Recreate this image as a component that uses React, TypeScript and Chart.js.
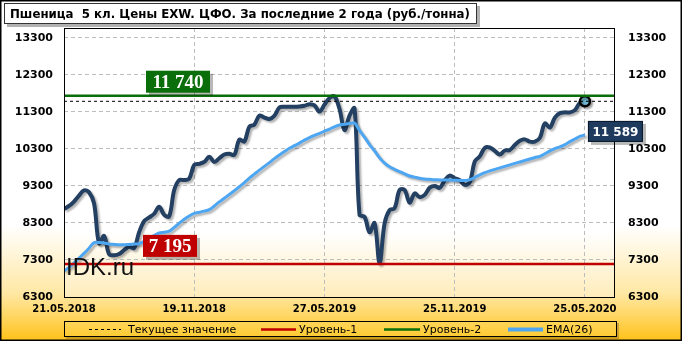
import { useEffect, useRef } from 'react';
import { Chart, registerables } from 'chart.js';

Chart.register(...registerables);

const TITLE = 'Пшеница  5 кл. Цены EXW. ЦФО. За последние 2 года (руб./тонна)';
const WATERMARK = 'IDK.ru';

const xTickWeeks = [0, 26, 52, 78, 104];
const xTickLabels = ['21.05.2018', '19.11.2018', '27.05.2019', '25.11.2019', '25.05.2020'];
const yTicks = [6300, 7300, 8300, 9300, 10300, 11300, 12300, 13300];

const priceValues = [
  8680, 8760, 8880, 9040, 9180, 9130, 8830, 7750, 7950, 7460,
  7430, 7460, 7570, 7660, 7620, 8050, 8350, 8450, 8550, 8740,
  8520, 8480, 9190, 9460, 9460, 9500, 9870, 9900, 9950, 10090,
  9950, 10050, 10150, 10170, 10140, 10550, 10500, 10900, 10960, 11200,
  11150, 11110, 11200, 11420, 11440, 11440, 11440, 11450, 11470, 11510,
  11480, 11310, 11500, 11680, 11720, 11380, 10810, 11200, 11400, 8520,
  8470, 8050, 8300, 7210, 8290, 8650, 8700, 9190, 9190, 8850,
  9100, 9000, 9060, 9250, 9300, 9250, 9450, 9580, 9510, 9460,
  9330, 9400, 9960, 10100, 10330, 10340, 10250, 10150, 10260, 10270,
  10410, 10520, 10560, 10500, 10500, 10600, 10990, 10880, 11150, 11270,
  11290, 11290, 11350, 11550, 11589,
];

const emaValues = [
  7000, 7100, 7220, 7350, 7480, 7620, 7770, 7770, 7760, 7730,
  7720, 7710, 7710, 7720, 7730, 7740, 7800, 7880, 7960, 8030,
  8050, 8080, 8180, 8290, 8400, 8490, 8560, 8590, 8620, 8660,
  8760, 8870, 8970, 9070, 9170, 9280, 9390, 9510, 9620, 9730,
  9830, 9930, 10040, 10140, 10230, 10320, 10390, 10460, 10540, 10610,
  10670, 10720, 10780, 10840, 10900, 10950, 10970, 10990, 11000, 10800,
  10620, 10420, 10250, 10060, 9920, 9820, 9750, 9690, 9630, 9570,
  9540, 9510, 9490, 9480, 9470, 9465, 9460, 9460, 9455, 9450,
  9450, 9470, 9530, 9600, 9660, 9710, 9750, 9790, 9830, 9870,
  9910, 9950, 9990, 10030, 10070, 10100, 10170, 10250, 10310, 10360,
  10420, 10500, 10570, 10640, 10680,
];

const currentValue = 11589;
const level1 = 7195;
const level2 = 11740;

const seriesLabels = ['Текущее значение', 'Уровень-1', 'Уровень-2', 'EMA(26)', 'Цена'];

const X_MAX = 110;
const Y_MIN = 6300;
const Y_MAX = 13570;

const fmt = (v: number) => {
  const s = String(Math.round(v));
  return s.replace(/\B(?=(\d{3})+(?!\d))/g, ' ');
};

const COLORS = {
  price: '#233F61',
  ema: '#4DA6F2',
  red: '#C00000',
  green: '#0A6E0A',
  navy: '#1E3A5C',
};

function drawBox(ctx: CanvasRenderingContext2D, x: number, y: number, w: number, h: number, fill: string, text: string, font: string, border?: string) {
  ctx.save();
  ctx.fillStyle = 'rgba(0,0,0,0.28)';
  ctx.fillRect(x + 3, y + 3, w, h);
  ctx.fillStyle = fill;
  ctx.fillRect(x, y, w, h);
  if (border) {
    ctx.strokeStyle = border;
    ctx.lineWidth = 1;
    ctx.strokeRect(x + 0.5, y + 0.5, w - 1, h - 1);
  }
  ctx.fillStyle = '#FFFFFF';
  ctx.font = font;
  ctx.textAlign = 'center';
  ctx.textBaseline = 'middle';
  ctx.fillText(text, x + w / 2, y + h / 2 + 1);
  ctx.restore();
}

const decorPlugin = {
  id: 'decor',
  beforeDraw(chart: any) {
    const { ctx, width, height, chartArea: a } = chart;
    ctx.save();
    const g = ctx.createLinearGradient(0, 0, 0, height);
    g.addColorStop(0, '#FFFFFF');
    g.addColorStop(0.66, '#FFFFFF');
    g.addColorStop(0.86, '#FFE8A4');
    g.addColorStop(1, '#FFC21A');
    ctx.fillStyle = g;
    ctx.fillRect(0, 0, width, height);
    const pg = ctx.createLinearGradient(0, a.top, 0, a.bottom);
    pg.addColorStop(0, '#FFFFFF');
    pg.addColorStop(0.76, '#FFFFFF');
    pg.addColorStop(1, '#FFECBA');
    ctx.fillStyle = pg;
    ctx.fillRect(a.left, a.top, a.right - a.left, a.bottom - a.top);
    ctx.restore();
  },
  beforeDatasetDraw(chart: any, args: any) {
    const ds = chart.data.datasets[args.index];
    if (ds.shadow) {
      const ctx = chart.ctx;
      ctx.save();
      ctx.shadowColor = 'rgba(0,0,0,0.3)';
      ctx.shadowOffsetX = 2;
      ctx.shadowOffsetY = 2;
      ctx.shadowBlur = 2;
    }
  },
  afterDatasetDraw(chart: any, args: any) {
    const ds = chart.data.datasets[args.index];
    if (ds.shadow) chart.ctx.restore();
  },
  afterDraw(chart: any) {
    const { ctx, width, height, chartArea: a, scales } = chart;
    const xs = scales.x;
    const ys = scales.y;
    ctx.save();
    // watermark
    ctx.fillStyle = '#111111';
    ctx.font = '24px "Liberation Sans", Arial, sans-serif';
    ctx.textAlign = 'left';
    ctx.textBaseline = 'alphabetic';
    ctx.fillText(WATERMARK, a.left + 2, 275);

    // plot border
    ctx.strokeStyle = '#000000';
    ctx.lineWidth = 1;
    ctx.strokeRect(a.left + 0.5, a.top + 0.5, a.right - a.left - 1, a.bottom - a.top);

    // value boxes
    const gy = ys.getPixelForValue(level2);
    drawBox(ctx, a.left + 82, gy - 25, 64, 22, COLORS.green, fmt(level2), 'bold 19px "Liberation Serif", serif');
    const ry = ys.getPixelForValue(level1);
    drawBox(ctx, a.left + 79, ry - 29, 54, 22, COLORS.red, fmt(level1), 'bold 19px "Liberation Serif", serif');
    const last = priceValues.length - 1;
    const lx = xs.getPixelForValue(last);
    const ey = ys.getPixelForValue(emaValues[last]);
    drawBox(ctx, lx + 3, ey - 14, 55, 21, COLORS.navy, fmt(currentValue), 'bold 12px "DejaVu Sans", sans-serif', '#0b1a2c');

    // title box
    ctx.font = 'bold 11.8px "DejaVu Sans", sans-serif';
    const bx = 4, by = 3, bw = 473, bh = 21;
    ctx.fillStyle = 'rgba(0,0,0,0.3)';
    ctx.fillRect(bx + 3, by + 3, bw, bh);
    ctx.fillStyle = '#FFFFFF';
    ctx.fillRect(bx, by, bw, bh);
    ctx.strokeStyle = '#333333';
    ctx.lineWidth = 1;
    ctx.strokeRect(bx + 0.5, by + 0.5, bw - 1, bh - 1);
    ctx.fillStyle = '#000000';
    ctx.textAlign = 'left';
    ctx.textBaseline = 'middle';
    ctx.fillText(TITLE, bx + 6, by + bh / 2 + 1, bw - 10);

    // legend
    const ly0 = 321, lh = 16, lx0 = 64, lw = 553;
    ctx.fillStyle = 'rgba(0,0,0,0.2)';
    ctx.fillRect(lx0 + 2, ly0 + 2, lw, lh);
    const lg = ctx.createLinearGradient(0, ly0, 0, ly0 + lh);
    lg.addColorStop(0, '#FFD65A');
    lg.addColorStop(1, '#FFCB33');
    ctx.fillStyle = lg;
    ctx.fillRect(lx0, ly0, lw, lh);
    ctx.strokeStyle = '#000000';
    ctx.lineWidth = 1;
    ctx.strokeRect(lx0 + 0.5, ly0 + 0.5, lw - 1, lh - 1);
    const cy = ly0 + lh / 2;
    const items = [
      { x0: 89, x1: 121, tx: 128, color: '#000000', w: 1, dash: [3, 3], label: seriesLabels[0] },
      { x0: 261, x1: 296, tx: 299, color: COLORS.red, w: 2.5, dash: [], label: seriesLabels[1] },
      { x0: 384, x1: 420, tx: 423, color: COLORS.green, w: 2.5, dash: [], label: seriesLabels[2] },
      { x0: 508, x1: 543, tx: 546, color: COLORS.ema, w: 4, dash: [], label: seriesLabels[3] },
    ];
    ctx.font = '11px "DejaVu Sans", sans-serif';
    ctx.textBaseline = 'middle';
    for (const it of items) {
      ctx.beginPath();
      ctx.setLineDash(it.dash);
      ctx.strokeStyle = it.color;
      ctx.lineWidth = it.w;
      ctx.moveTo(it.x0, cy + 0.5);
      ctx.lineTo(it.x1, cy + 0.5);
      ctx.stroke();
      ctx.setLineDash([]);
      ctx.fillStyle = '#000000';
      ctx.fillText(it.label, it.tx, cy + 1);
    }

    // outer border
    ctx.strokeStyle = '#000000';
    ctx.lineWidth = 1.5;
    ctx.strokeRect(0.75, 0.75, width - 1.5, height - 1.5);
    ctx.restore();
  },
};

export default function App() {
  const ref = useRef<HTMLCanvasElement | null>(null);
  useEffect(() => {
    document.body.style.margin = '0';
    if (!ref.current) return;
    const hline = (v: number) => [
      { x: 0, y: v },
      { x: X_MAX, y: v },
    ];
    const last = priceValues.length - 1;
    const yTickCfg = {
      color: '#000000',
      font: { family: '"DejaVu Sans", sans-serif', size: 11, weight: 'bold' as const },
    };
    const chart = new Chart(ref.current, {
      type: 'line',
      data: {
        datasets: [
          {
            label: seriesLabels[1],
            data: hline(level1),
            borderColor: COLORS.red,
            borderWidth: 2.5,
            pointRadius: 0,
            tension: 0,
          },
          {
            label: seriesLabels[2],
            data: hline(level2),
            borderColor: COLORS.green,
            borderWidth: 2.5,
            pointRadius: 0,
            tension: 0,
          },
          {
            label: seriesLabels[0],
            data: hline(currentValue),
            borderColor: '#000000',
            borderWidth: 1,
            borderDash: [3, 3],
            pointRadius: 0,
            tension: 0,
          },
          {
            label: seriesLabels[3],
            data: emaValues.map((v, i) => ({ x: i, y: v })),
            borderColor: COLORS.ema,
            borderWidth: 3,
            pointRadius: 0,
            tension: 0.35,
            shadow: true,
          } as any,
          {
            label: seriesLabels[4],
            data: priceValues.map((v, i) => ({ x: i, y: v })),
            borderColor: COLORS.price,
            borderWidth: 4,
            tension: 0.35,
            pointRadius: (c: any) => (c.dataIndex === last ? 5 : 0),
            pointBackgroundColor: '#6FB6D2',
            pointBorderColor: '#000000',
            pointBorderWidth: 2.5,
            shadow: true,
          } as any,
        ],
      },
      options: {
        responsive: false,
        animation: false,
        layout: { padding: { top: 28, left: 0, right: 0, bottom: 0 } },
        plugins: { legend: { display: false }, title: { display: false }, tooltip: { enabled: false } },
        scales: {
          x: {
            type: 'linear',
            min: 0,
            max: X_MAX,
            afterBuildTicks: (s: any) => {
              s.ticks = xTickWeeks.map((v) => ({ value: v }));
            },
            afterFit: (s: any) => {
              s.height = 44;
            },
            ticks: {
              autoSkip: false,
              maxRotation: 0,
              padding: 6,
              color: '#000000',
              font: { family: '"DejaVu Sans", sans-serif', size: 10, weight: 'bold' },
              callback: (v: any) => {
                const i = xTickWeeks.indexOf(Number(v));
                return i >= 0 ? xTickLabels[i] : '';
              },
            },
            grid: { color: '#BDBDBD', lineWidth: 1, drawTicks: false },
            border: { display: false, dash: [4, 3] },
          },
          y: {
            type: 'linear',
            position: 'left',
            min: Y_MIN,
            max: Y_MAX,
            afterBuildTicks: (s: any) => {
              s.ticks = yTicks.map((v) => ({ value: v }));
            },
            afterFit: (s: any) => {
              s.width = 64;
            },
            ticks: { ...yTickCfg, padding: 11, callback: (v: any) => String(v) },
            grid: { color: '#BDBDBD', lineWidth: 1, drawTicks: false },
            border: { display: false, dash: [4, 3] },
          },
          y2: {
            type: 'linear',
            position: 'right',
            min: Y_MIN,
            max: Y_MAX,
            afterBuildTicks: (s: any) => {
              s.ticks = yTicks.map((v) => ({ value: v }));
            },
            afterFit: (s: any) => {
              s.width = 67;
            },
            ticks: { ...yTickCfg, padding: 13, callback: (v: any) => String(v) },
            grid: { display: false, drawTicks: false },
            border: { display: false },
          },
        },
      } as any,
      plugins: [decorPlugin],
    });
    return () => chart.destroy();
  }, []);
  return (
    <div style={{ width: 682, height: 341 }}>
      <canvas ref={ref} width={682} height={341} style={{ display: 'block' }} />
    </div>
  );
}
